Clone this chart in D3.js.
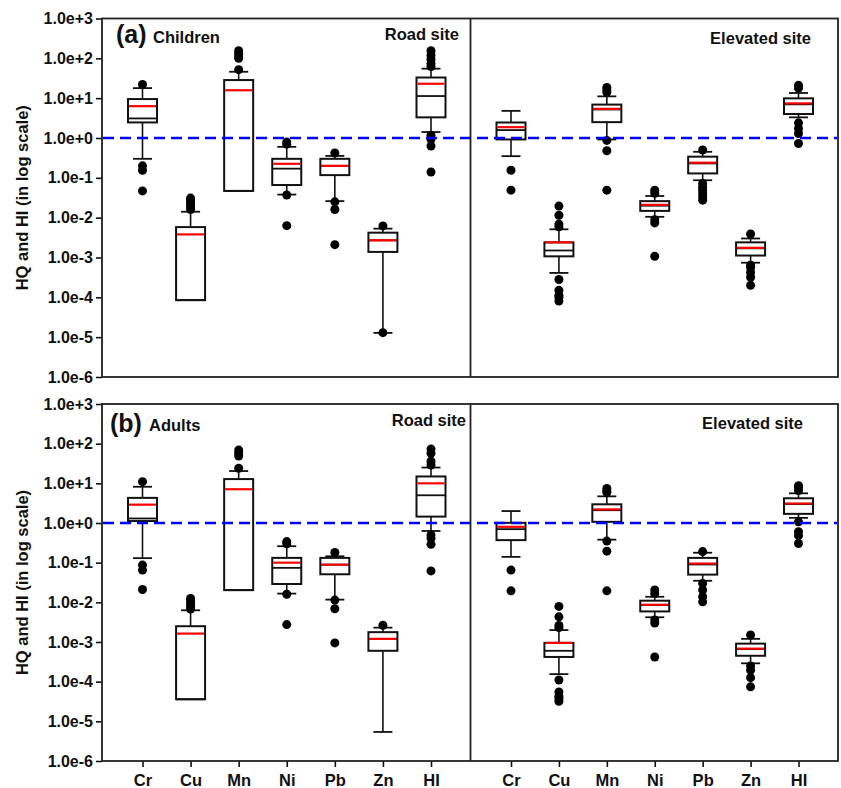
<!DOCTYPE html>
<html>
<head>
<meta charset="utf-8">
<script src="https://cdn.jsdelivr.net/npm/d3@7/dist/d3.min.js"></script>
<style>
  html, body { margin: 0; padding: 0; background: #fff; }
  svg { display: block; font-family: "Liberation Sans", Arial, sans-serif; font-weight: bold; }
</style>
</head>
<body>
<svg id="chart" width="841" height="788"></svg>
<script>
// ---------------- DATA ----------------
const categories = ["Cr", "Cu", "Mn", "Ni", "Pb", "Zn", "HI"];
const yTickValues = [1e3, 1e2, 1e1, 1e0, 1e-1, 1e-2, 1e-3, 1e-4, 1e-5, 1e-6];
const yTickLabels = ["1.0e+3", "1.0e+2", "1.0e+1", "1.0e+0", "1.0e-1", "1.0e-2", "1.0e-3", "1.0e-4", "1.0e-5", "1.0e-6"];
const thresholdValue = 1;

// each entry: lo (lower whisker), q1, med, q3, hi (upper whisker), mean, out (outliers)
const childrenRoad = [
  { lo: 0.30,    q1: 2.46,   med: 3.1,    q3: 9.5,    hi: 17.9,   mean: 6.3,    out: [22, 0.2, 0.155, 0.047] },
  { lo: 8.5e-5,  q1: 8.5e-5, med: 8.5e-5, q3: 5.8e-3, hi: 0.0141, mean: 3.8e-3, out: [0.016, 0.019, 0.022, 0.025, 0.028, 0.031] },
  { lo: 0.047,   q1: 0.047,  med: 0.047,  q3: 28.5,   hi: 46,     mean: 15.8,   out: [52, 100, 115, 135, 155] },
  { lo: 0.038,   q1: 0.066,  med: 0.17,   q3: 0.30,   hi: 0.60,   mean: 0.225,  out: [0.70, 0.79, 0.037, 0.0063] },
  { lo: 0.026,   q1: 0.117,  med: 0.2,    q3: 0.30,   hi: 0.355,  mean: 0.2,    out: [0.42, 0.025, 0.016, 0.0021] },
  { lo: 1.28e-5, q1: 1.38e-3, med: 2.7e-3, q3: 4.2e-3, hi: 5.3e-3, mean: 2.7e-3, out: [6.2e-3, 1.3e-5] },
  { lo: 1.41,    q1: 3.3,    med: 11.3,   q3: 33,     hi: 55,     mean: 23,     out: [62, 74, 94, 120, 155, 1.18, 0.92, 0.63, 0.14] }
];
const childrenElevated = [
  { lo: 0.35,    q1: 0.92,    med: 1.58,   q3: 2.45,   hi: 4.8,    mean: 1.87,   out: [0.155, 0.049] },
  { lo: 4.1e-4,  q1: 1.07e-3, med: 1.5e-3, q3: 2.4e-3, hi: 5.1e-3, mean: 2.4e-3, out: [5.9e-3, 6.9e-3, 0.0115, 0.0195, 2.8e-4, 1.5e-4, 1.13e-4, 1.0e-4, 8.1e-5] },
  { lo: 0.92,    q1: 2.5,     med: 5.2,    q3: 6.9,    hi: 11.1,   mean: 5.4,    out: [14, 16, 18.5, 0.87, 0.48, 0.049] },
  { lo: 0.0105,  q1: 0.0148,  med: 0.02,   q3: 0.026,  hi: 0.035,  mean: 0.021,  out: [0.041, 0.049, 0.0089, 0.0074, 1.07e-3] },
  { lo: 0.087,   q1: 0.129,   med: 0.23,   q3: 0.34,   hi: 0.45,   mean: 0.24,   out: [0.5, 0.072, 0.058, 0.049, 0.04, 0.033, 0.0275] },
  { lo: 7.4e-4,  q1: 1.12e-3, med: 1.7e-3, q3: 2.4e-3, hi: 3.0e-3, mean: 1.75e-3, out: [3.9e-3, 6.4e-4, 5.6e-4, 4.2e-4, 3.2e-4, 2.0e-4] },
  { lo: 3.3,     q1: 4.0,     med: 7.0,    q3: 9.9,    hi: 13.5,   mean: 7.4,    out: [17.8, 21, 2.4, 1.74, 1.3, 0.73] }
];
const adultsRoad = [
  { lo: 0.13,    q1: 1.12,   med: 1.3,    q3: 4.3,     hi: 8.2,    mean: 2.9,     out: [11, 0.087, 0.065, 0.021] },
  { lo: 3.6e-5,  q1: 3.6e-5, med: 3.6e-5, q3: 2.5e-3,  hi: 6.3e-3, mean: 1.63e-3, out: [6.8e-3, 7.8e-3, 9e-3, 0.0105, 0.0125] },
  { lo: 0.0203,  q1: 0.0203, med: 0.0203, q3: 12.8,    hi: 20.4,   mean: 7.1,     out: [24, 49, 58, 69] },
  { lo: 0.0166,  q1: 0.029,  med: 0.074,  q3: 0.132,   hi: 0.26,   mean: 0.1,     out: [0.30, 0.34, 0.016, 2.75e-3] },
  { lo: 0.0117,  q1: 0.051,  med: 0.089,  q3: 0.132,   hi: 0.145,  mean: 0.089,   out: [0.18, 0.0114, 0.0069, 9.5e-4] },
  { lo: 5.4e-6,  q1: 6.0e-4, med: 1.2e-3, q3: 1.77e-3, hi: 2.3e-3, mean: 1.2e-3,  out: [2.65e-3] },
  { lo: 0.63,    q1: 1.45,   med: 5.0,    q3: 14.9,    hi: 25,     mean: 10,      out: [29, 36, 57, 73, 0.5, 0.41, 0.29, 0.062] }
];
const adultsElevated = [
  { lo: 0.14,    q1: 0.37,   med: 0.70,   q3: 1.01,   hi: 2.0,    mean: 0.80,   out: [0.065, 0.0195] },
  { lo: 1.55e-4, q1: 4.2e-4, med: 6.0e-4, q3: 9.5e-4, hi: 2.0e-3, mean: 9.5e-4, out: [2.3e-3, 2.6e-3, 4.3e-3, 7.9e-3, 1.1e-4, 5.5e-5, 4.3e-5, 3.8e-5, 3.2e-5] },
  { lo: 0.38,    q1: 1.07,   med: 2.1,    q3: 2.96,   hi: 4.7,    mean: 2.2,    out: [5.9, 6.4, 7.4, 0.35, 0.195, 0.0195] },
  { lo: 4.2e-3,  q1: 5.9e-3, med: 8.5e-3, q3: 0.011,  hi: 0.0138, mean: 8.7e-3, out: [0.0166, 0.0204, 3.6e-3, 3.0e-3, 4.2e-4] },
  { lo: 0.035,   q1: 0.05,   med: 0.09,   q3: 0.132,  hi: 0.178,  mean: 0.095,  out: [0.19, 0.03, 0.0204, 0.0138, 0.0103] },
  { lo: 2.9e-4,  q1: 4.5e-4, med: 6.6e-4, q3: 9.1e-4, hi: 1.2e-3, mean: 6.8e-4, out: [1.5e-3, 2.5e-4, 1.95e-4, 1.26e-4, 7.4e-5] },
  { lo: 1.35,    q1: 1.7,    med: 3.0,    q3: 4.2,    hi: 5.6,    mean: 3.1,    out: [6.6, 8.1, 8.7, 1.07, 0.6, 0.48, 0.305] }
];
const yAxisTitle = "HQ and HI (in log scale)";

// ---------------- LAYOUT ----------------
const svg = d3.select("#chart");
const L = { left: 102, split: 470.5, right: 838 };
const rows = [
  { top: 18.5, bottom: 377, letter: "(a)", group: "Children", data: [childrenRoad, childrenElevated], showX: false,
    letterPos: [116, 43], groupPos: [153, 43], siteY: [40, 44] },
  { top: 404, bottom: 761, letter: "(b)", group: "Adults", data: [adultsRoad, adultsElevated], showX: true,
    letterPos: [110, 432], groupPos: [149, 431], siteY: [426, 429] }
];
const siteNames = ["Road site", "Elevated site"];
const siteRightX = [459, 811];
const siteRightXb = [466, 803];

const boxW = 29, capW = 19, dotR = 4.5;
const ink = "#111";

rows.forEach((row, ri) => {
  const y = d3.scaleLog().domain([1e-6, 1e3]).range([row.bottom, row.top]);
  const g = svg.append("g");

  // y axis
  const yAxis = d3.axisLeft(y).tickValues(yTickValues)
    .tickFormat((d, i) => yTickLabels[i]).tickSize(6).tickSizeOuter(0).tickPadding(3);
  const ya = g.append("g").attr("transform", `translate(${L.left},0)`).call(yAxis);
  ya.select(".domain").remove();
  ya.selectAll("line").attr("stroke", ink).attr("stroke-width", 1.6);
  ya.selectAll("text").attr("font-size", 16).attr("font-weight", "bold").attr("fill", ink)
    .attr("font-family", "'Liberation Sans', Arial, sans-serif");

  // y title
  g.append("text").attr("transform", `translate(22,${(row.top + row.bottom) / 2}) rotate(-90)`)
    .attr("text-anchor", "middle").attr("dy", "0.35em").attr("font-size", 16.5).attr("fill", ink)
    .text(yAxisTitle);

  row.data.forEach((ds, si) => {
    const x0 = si === 0 ? L.left : L.split;
    const x1 = si === 0 ? L.split : L.right;
    const x = d3.scalePoint().domain(categories).range([x0 + 40.5, x1 - 39.5]);

    if (row.showX) {
      const xAxis = d3.axisBottom(x).tickSize(6).tickSizeOuter(0).tickPadding(7);
      const xa = g.append("g").attr("transform", `translate(0,${row.bottom})`).call(xAxis);
      xa.select(".domain").remove();
      xa.selectAll("line").attr("stroke", ink).attr("stroke-width", 1.6);
      xa.selectAll("text").attr("font-size", 16.5).attr("font-weight", "bold").attr("fill", ink)
        .attr("font-family", "'Liberation Sans', Arial, sans-serif");
    }

    const boxes = g.append("g").selectAll("g").data(ds).join("g")
      .attr("transform", (d, i) => `translate(${x(categories[i])},0)`);

    // whiskers
    boxes.filter(d => d.hi > d.q3).append("line")
      .attr("x1", 0).attr("x2", 0).attr("y1", d => y(d.q3)).attr("y2", d => y(d.hi))
      .attr("stroke", ink).attr("stroke-width", 1.6);
    boxes.filter(d => d.hi > d.q3).append("line")
      .attr("x1", -capW / 2).attr("x2", capW / 2).attr("y1", d => y(d.hi)).attr("y2", d => y(d.hi))
      .attr("stroke", ink).attr("stroke-width", 1.8);
    boxes.filter(d => d.lo < d.q1).append("line")
      .attr("x1", 0).attr("x2", 0).attr("y1", d => y(d.q1)).attr("y2", d => y(d.lo))
      .attr("stroke", ink).attr("stroke-width", 1.6);
    boxes.filter(d => d.lo < d.q1).append("line")
      .attr("x1", -capW / 2).attr("x2", capW / 2).attr("y1", d => y(d.lo)).attr("y2", d => y(d.lo))
      .attr("stroke", ink).attr("stroke-width", 1.8);

    // box
    boxes.append("rect")
      .attr("x", -boxW / 2).attr("width", boxW)
      .attr("y", d => y(d.q3)).attr("height", d => Math.max(0, y(d.q1) - y(d.q3)))
      .attr("fill", "#fff").attr("stroke", ink).attr("stroke-width", 2);
    // median
    boxes.append("line")
      .attr("x1", -boxW / 2).attr("x2", boxW / 2).attr("y1", d => y(d.med)).attr("y2", d => y(d.med))
      .attr("stroke", ink).attr("stroke-width", 1.8);
    // mean
    boxes.append("line")
      .attr("x1", -boxW / 2 + 1).attr("x2", boxW / 2 - 1).attr("y1", d => y(d.mean)).attr("y2", d => y(d.mean))
      .attr("stroke", "#ff0000").attr("stroke-width", 2.2);
    // outliers
    boxes.selectAll("circle").data(d => d.out).join("circle")
      .attr("cx", 0).attr("cy", v => y(v)).attr("r", dotR).attr("fill", "#000");

    // site label
    g.append("text").attr("x", ri === 0 ? siteRightX[si] : siteRightXb[si]).attr("y", row.siteY[si])
      .attr("text-anchor", "end").attr("font-size", 16.5).attr("fill", ink).text(siteNames[si]);
  });

  // threshold line
  g.append("line").attr("x1", L.left + 1).attr("x2", L.right - 1)
    .attr("y1", y(thresholdValue)).attr("y2", y(thresholdValue))
    .attr("stroke", "#0000ff").attr("stroke-width", 2.4).attr("stroke-dasharray", "11,6");

  // frames
  g.append("rect").attr("x", L.left).attr("y", row.top)
    .attr("width", L.right - L.left).attr("height", row.bottom - row.top)
    .attr("fill", "none").attr("stroke", "#222").attr("stroke-width", 1.8);
  g.append("line").attr("x1", L.split).attr("x2", L.split).attr("y1", row.top).attr("y2", row.bottom)
    .attr("stroke", "#222").attr("stroke-width", 1.8);

  // panel letter + group
  g.append("text").attr("x", row.letterPos[0]).attr("y", row.letterPos[1])
    .attr("font-size", 25).attr("fill", ink).text(row.letter);
  g.append("text").attr("x", row.groupPos[0]).attr("y", row.groupPos[1])
    .attr("font-size", 16.5).attr("fill", ink).text(row.group);
});
</script>
</body>
</html>
